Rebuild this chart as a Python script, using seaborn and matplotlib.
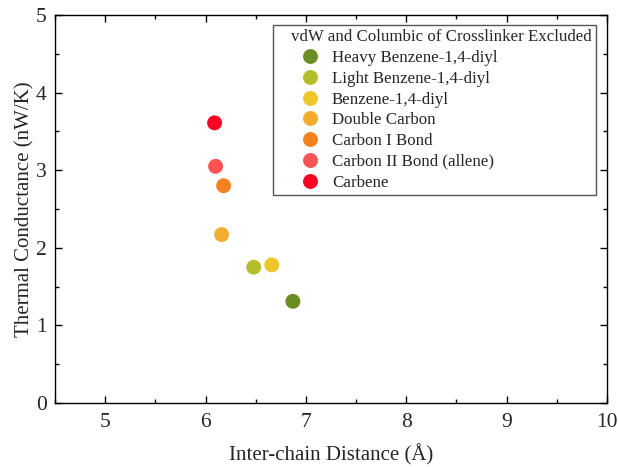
import matplotlib
matplotlib.use("Agg")
import matplotlib.pyplot as plt
import matplotlib.patches as mpatches
import seaborn as sns
import pandas as pd
from matplotlib.ticker import MultipleLocator

categories = ["Heavy Benzene-1,4-diyl", "Light Benzene-1,4-diyl", "Benzene-1,4-diyl",
              "Double Carbon", "Carbon I Bond", "Carbon II Bond (allene)", "Carbene"]
distance = [6.87, 6.48, 6.66, 6.16, 6.18, 6.10, 6.09]
conductance = [1.31, 1.75, 1.78, 2.17, 2.80, 3.05, 3.61]
colors = ["#6B8E23", "#B5BD2A", "#EEC62A", "#F0AD2E", "#F58220", "#FF5252", "#FF0022"]

df = pd.DataFrame({"Category": categories, "Distance": distance, "Conductance": conductance})

sns.set_style("ticks")
plt.rcParams["font.family"] = ["Liberation Serif", "DejaVu Serif"]

fig = plt.figure(figsize=(6.18, 4.67), dpi=100)
ax = fig.add_axes([55/618, 1-403/467, 552/618, 388/467])

sns.scatterplot(data=df, x="Distance", y="Conductance", hue="Category",
                hue_order=categories, palette=colors, s=115, edgecolor="none",
                ax=ax, zorder=3)

ax.set_xlim(4.5, 10)
ax.set_ylim(0, 5)
ax.xaxis.set_major_locator(MultipleLocator(1))
ax.xaxis.set_minor_locator(MultipleLocator(0.5))
ax.yaxis.set_major_locator(MultipleLocator(1))
ax.yaxis.set_minor_locator(MultipleLocator(0.5))
ax.tick_params(which="both", direction="in", top=True, right=True, labelsize=15.5, width=1, color="black")
ax.tick_params(which="major", length=5)
ax.tick_params(which="minor", length=3)
ax.tick_params(axis="x", which="major", pad=7)
ax.tick_params(axis="y", which="major", pad=6)
for sp in ax.spines.values():
    sp.set_linewidth(1)
    sp.set_color("black")

ax.set_xlabel("Inter-chain Distance (Å)", fontsize=15, labelpad=9)
ax.set_ylabel("Thermal Conductance (nW/K)", fontsize=15, labelpad=1)

leg = ax.legend(title="vdW and Columbic of Crosslinker Excluded", loc="upper right",
                bbox_to_anchor=(0.980, 0.974), borderaxespad=0,
                fontsize=12.2, title_fontsize=12.2,
                frameon=False, markerscale=1.0,
                handlelength=2.2, handletextpad=0.2, labelspacing=0.28, borderpad=0.25)
leg._legend_box.align = "left"
leg.set_zorder(6)

# legend frame with extra left padding, as in the reference
fig.canvas.draw()
bb = leg.get_window_extent().transformed(ax.transAxes.inverted())
extra = 14 / ax.bbox.width
frame = mpatches.Rectangle((bb.x0 - extra, bb.y0), bb.width + extra, bb.height,
                           transform=ax.transAxes, facecolor="white", edgecolor="#555555",
                           linewidth=1, zorder=5, clip_on=False)
ax.add_patch(frame)

fig.savefig("out.png", dpi=100)
